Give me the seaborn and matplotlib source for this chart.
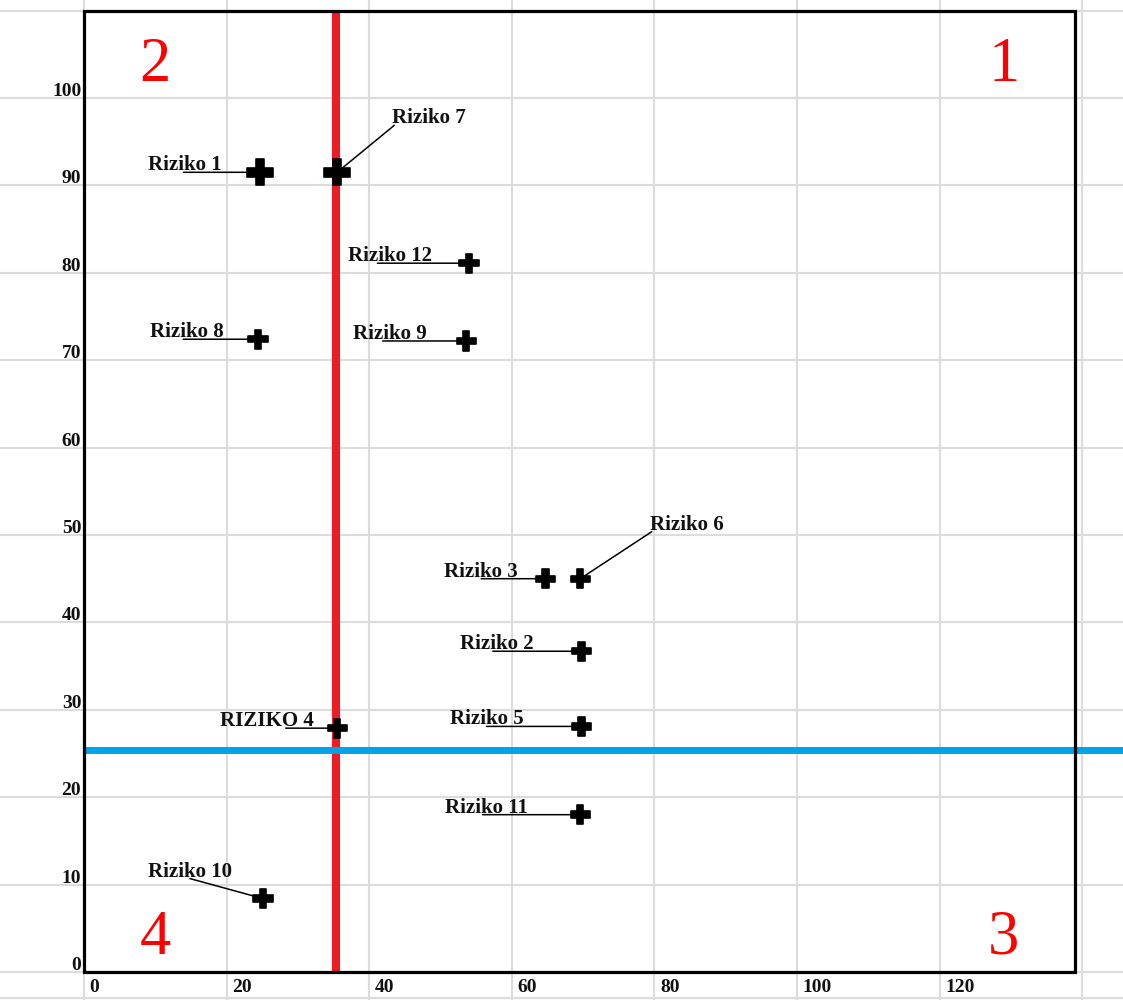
import numpy as np
import pandas as pd
import seaborn as sns
import matplotlib.pyplot as plt
from matplotlib.patches import Rectangle

# risk matrix values
names = ['Riziko 1', 'Riziko 7', 'Riziko 12', 'Riziko 8', 'Riziko 9', 'Riziko 3',
         'Riziko 6', 'Riziko 2', 'Riziko 5', 'RIZIKO 4', 'Riziko 11', 'Riziko 10']
x_vals = [24.7, 35.5, 54.0, 24.4, 53.6, 64.7, 69.6, 69.8, 69.8, 35.5, 69.6, 25.1]
y_vals = [91.5, 91.5, 81.1, 72.4, 72.2, 45.0, 45.0, 36.7, 28.1, 27.9, 18.0, 8.4]
x_ticks = [0, 20, 40, 60, 80, 100, 120]
y_ticks = [0, 10, 20, 30, 40, 50, 60, 70, 80, 90, 100]
x_split = 35.3
y_split = 25.4
quadrants = ['1', '2', '3', '4']

# label placement (pixels right/up from the point, where the leader leaves the text)
label_style = {
    'Riziko 1': (-112, -3, 0.48), 'Riziko 7': (55, 44, 0.03),
    'Riziko 12': (-121, -3, 0.35), 'Riziko 8': (-108, -3, 0.45),
    'Riziko 9': (-113, -3, 0.40), 'Riziko 3': (-101, -3, 0.50),
    'Riziko 6': (70, 44, 0.02), 'Riziko 2': (-122, -3, 0.45),
    'Riziko 5': (-132, -3, 0.50), 'RIZIKO 4': (-117, -3, 0.70),
    'Riziko 11': (-135, -3, 0.45), 'Riziko 10': (-115, 17, 0.50),
}
big = ['Riziko 1', 'Riziko 7']

df = pd.DataFrame({'name': names, 'x': x_vals, 'y': y_vals})
df['size'] = np.where(df['name'].isin(big), 'big', 'small')

sns.set_theme(style='white')
plt.rcParams['font.family'] = ['Liberation Serif', 'DejaVu Serif']

fig = plt.figure(figsize=(11.23, 10), dpi=100)
ax = fig.add_axes([0, 0, 1, 1])
px_x = 7.13   # pixels per x unit
px_y = 8.74   # pixels per y unit
ax.set_xlim(-84 / px_x, (1123 - 84) / px_x)
ax.set_ylim((972 - 1000) / px_y, 972 / px_y)
x_right = 139
y_top = 110

# spreadsheet-like grid
ax.set_xticks(range(0, 141, 20))
ax.set_yticks([-3] + list(range(0, 111, 10)))
ax.grid(True, color='#DCDCDC', lw=1.5)
ax.tick_params(labelbottom=False, labelleft=False, length=0)
for s in ax.spines.values():
    s.set_visible(False)

ax.add_patch(Rectangle((0, 0), x_right, y_top, fill=False, ec='black', lw=2.3, zorder=5))

ax.vlines(x_split, 0, y_top, color='#ED1C24', lw=5.8, zorder=3)
ax.hlines(y_split, 0, ax.get_xlim()[1], color='#00A2E8', lw=5.0, zorder=3)

sns.scatterplot(data=df, x='x', y='y', size='size', sizes={'big': 340, 'small': 190},
                marker='P', color='black', edgecolor='black', linewidth=1.2,
                legend=False, zorder=6, ax=ax)
ax.set_xlabel('')
ax.set_ylabel('')

for n, xv, yv in zip(names, x_vals, y_vals):
    dx, dy, rel = label_style[n]
    t = ax.annotate(n, (xv, yv), xytext=(dx * 0.72, dy * 0.72), textcoords='offset points',
                    ha='left', va='bottom', fontsize=15, fontweight='bold', color='#111111',
                    zorder=7)
    # leader line from under the label to the marker
    ax.annotate('', (xv, yv), xytext=(rel, 0.15), textcoords=t,
                arrowprops=dict(arrowstyle='-', color='black', lw=1.1,
                                shrinkA=0, shrinkB=0), zorder=5.5)

for v in x_ticks:
    ax.annotate(str(v), (v, 0), xytext=(4, -5), textcoords='offset points',
                ha='left', va='top', fontsize=14, fontweight='bold', color='#111111')
for v in y_ticks:
    ax.annotate(str(v), (0, v), xytext=(-2, 1.5), textcoords='offset points',
                ha='right', va='baseline', fontsize=14, fontweight='bold', color='#111111')

# quadrant numbers
q_pos = {'1': (x_right - 10, y_top - 6.3), '2': (10, y_top - 6.3),
         '3': (x_right - 10, 3.8), '4': (10, 3.8)}
for q in quadrants:
    ax.text(*q_pos[q], q, ha='center', va='center', fontsize=45, color='#FF0000', zorder=7)

fig.savefig('out.png', dpi=100)
